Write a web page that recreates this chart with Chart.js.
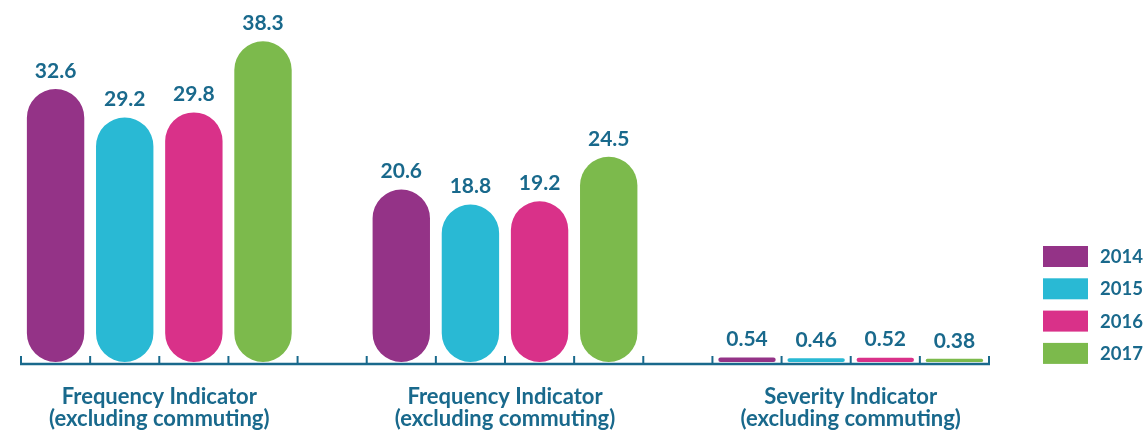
<!DOCTYPE html>
<html>
<head>
<meta charset="utf-8">
<script src="https://cdn.jsdelivr.net/npm/chart.js@4/dist/chart.umd.min.js"></script>
<style>
  html, body { margin: 0; padding: 0; background: #ffffff; }
  #wrap { width: 1147px; height: 434px; position: relative; }
</style>
</head>
<body>
<div id="wrap"><canvas id="chart"></canvas></div>
<script>
// Indicator groups shown along the x axis (each label is two lines)
const groupLabels = [
  ['Frequency Indicator', '(excluding commuting)'],
  ['Frequency Indicator', '(excluding commuting)'],
  ['Severity Indicator', '(excluding commuting)']
];

// Years in the legend
const years = ['2014', '2015', '2016', '2017'];

// Values per year, one entry per indicator group
const values2014 = [32.6, 20.6, 0.54];
const values2015 = [29.2, 18.8, 0.46];
const values2016 = [29.8, 19.2, 0.52];
const values2017 = [38.3, 24.5, 0.38];

const seriesValues = [values2014, values2015, values2016, values2017];
const seriesColors = ['#943387', '#29b9d4', '#d93189', '#7cba4c'];

const TEXT_COLOR = '#19698c';
const FONT_FAMILY = 'Lato, "Open Sans", "Noto Sans", sans-serif';

// Each group takes one slot per year, plus an empty slot between groups
const slotsPerGroup = years.length + 1;
const totalSlots = groupLabels.length * slotsPerGroup - 1;

const datasets = seriesValues.map((vals, s) => ({
  label: years[s],
  data: vals.map((v, g) => ({ x: g * slotsPerGroup + s + 0.5, y: v })),
  backgroundColor: seriesColors[s],
  borderWidth: 0,
  borderRadius: 100,
  borderSkipped: false,
  grouped: false,
  categoryPercentage: 1,
  barPercentage: 0.83
}));

// Axis line with upward tick marks at every slot boundary
const axisPlugin = {
  id: 'slotAxis',
  afterDatasetsDraw(chart) {
    const { ctx, chartArea } = chart;
    const x = chart.scales.x;
    const y = chartArea.bottom + 2;
    ctx.save();
    ctx.strokeStyle = TEXT_COLOR;
    ctx.lineWidth = 2.5;
    ctx.beginPath();
    ctx.moveTo(x.getPixelForValue(0) - 1, y);
    ctx.lineTo(x.getPixelForValue(totalSlots) + 1, y);
    ctx.stroke();
    ctx.lineWidth = 2;
    for (let i = 0; i <= totalSlots; i++) {
      const px = x.getPixelForValue(i);
      ctx.beginPath();
      ctx.moveTo(px, y);
      ctx.lineTo(px, y - 8);
      ctx.stroke();
    }
    ctx.restore();
  }
};

// Value labels above each bar
const valueLabelPlugin = {
  id: 'valueLabels',
  afterDatasetsDraw(chart) {
    const { ctx } = chart;
    ctx.save();
    ctx.fillStyle = TEXT_COLOR;
    ctx.font = 'bold 21px ' + FONT_FAMILY;
    ctx.textAlign = 'center';
    ctx.textBaseline = 'middle';
    chart.data.datasets.forEach((ds, di) => {
      const meta = chart.getDatasetMeta(di);
      meta.data.forEach((bar, i) => {
        ctx.fillText(String(ds.data[i].y), bar.x, bar.y - 18);
      });
    });
    ctx.restore();
  }
};

// Year legend to the right of the plot
const yearLegendPlugin = {
  id: 'yearLegend',
  afterDraw(chart) {
    const { ctx, chartArea } = chart;
    const left = chartArea.right + 54;
    const top = chartArea.bottom - 116;
    const step = 32.3;
    ctx.save();
    ctx.font = 'bold 18.5px ' + FONT_FAMILY;
    ctx.textAlign = 'left';
    ctx.textBaseline = 'middle';
    chart.data.datasets.forEach((ds, i) => {
      const yTop = top + i * step;
      ctx.fillStyle = ds.backgroundColor;
      ctx.fillRect(left, yTop, 45, 21);
      ctx.fillStyle = TEXT_COLOR;
      ctx.fillText(ds.label, left + 57, yTop + 11);
    });
    ctx.restore();
  }
};

new Chart(document.getElementById('chart'), {
  type: 'bar',
  data: { datasets },
  options: {
    responsive: true,
    maintainAspectRatio: false,
    animation: false,
    layout: { padding: { left: 21, right: 158, top: 27, bottom: 4 } },
    plugins: {
      legend: { display: false },
      tooltip: { enabled: false }
    },
    scales: {
      x: {
        type: 'linear',
        min: 0,
        max: totalSlots,
        offset: false,
        grid: { display: false, drawTicks: false, offset: false },
        border: { display: false },
        afterBuildTicks(scale) {
          scale.ticks = groupLabels.map((_, g) => ({ value: g * slotsPerGroup + (years.length / 2) }));
        },
        afterFit(scale) {
          scale.height = 68;
        },
        ticks: {
          autoSkip: false,
          maxRotation: 0,
          minRotation: 0,
          padding: 24,
          color: TEXT_COLOR,
          font: { family: FONT_FAMILY, size: 22, weight: 'bold', lineHeight: 1 },
          callback(value) {
            const g = Math.round((value - years.length / 2) / slotsPerGroup);
            return groupLabels[g] || '';
          }
        }
      },
      y: {
        display: false,
        min: 0,
        max: 40
      }
    }
  },
  plugins: [axisPlugin, valueLabelPlugin, yearLegendPlugin]
});
</script>
</body>
</html>
